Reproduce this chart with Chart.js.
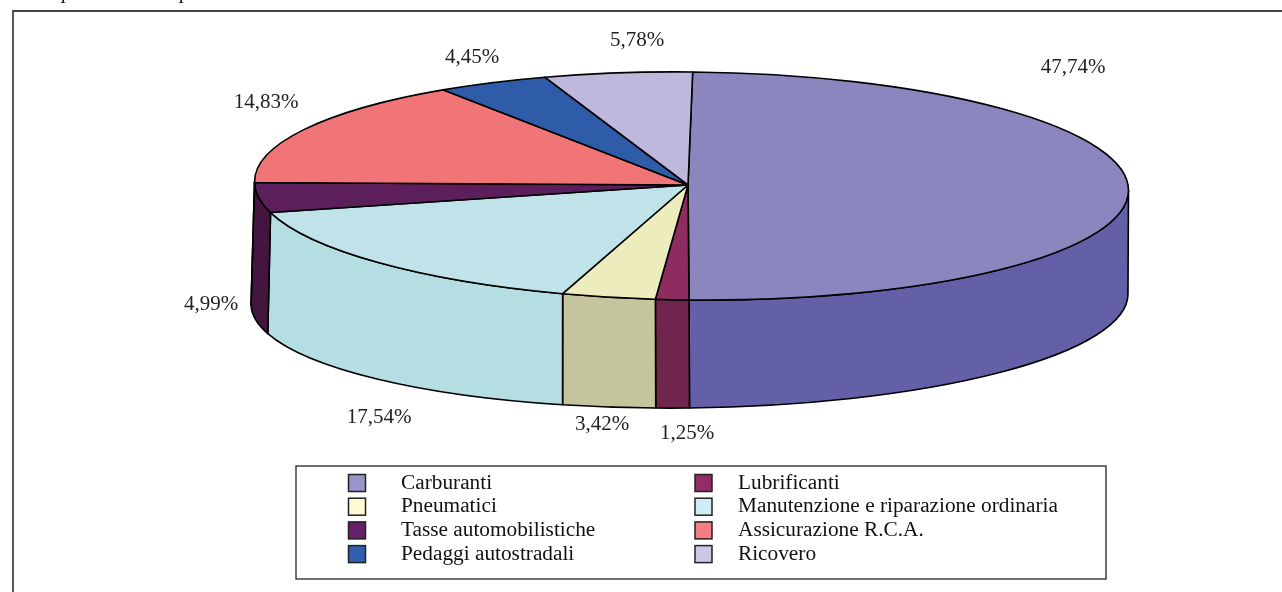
<!DOCTYPE html>
<html><head><meta charset="utf-8">
<script src="https://cdn.jsdelivr.net/npm/chart.js@4"></script>
<style>html,body{margin:0;padding:0;background:#fff}canvas{display:block}</style>
</head><body><canvas id="c" width="1282" height="592"></canvas>
<script>
const categories = ["Carburanti","Lubrificanti","Pneumatici","Manutenzione e riparazione ordinaria","Tasse automobilistiche","Assicurazione R.C.A.","Pedaggi autostradali","Ricovero"];
const shares = [47.74,1.25,3.42,17.54,4.99,14.83,4.45,5.78];
const topColors = ["#8B86BE","#8E2C62","#EDECBC","#C0E3EA","#5C1F5B","#F17577","#2E5CA8","#BDB8DC"];
const sideColors = ["#6460A8","#70264C","#C5C59D","#B5DEE3","#44163F","#D0615F","#24498A","#9C98B8"];
const legendColors = ["#9795C9","#942C66","#FFFBD0","#CFECF4","#66206A","#F57D84","#2F5FAE","#CBC8E6"];
const labelPlace = [[1073,66],[687,432],[602,423],[379,416],[211,303],[266,101],[472,56],[637,39]];
const croppedLine = [[62,"p"],[180,"p"]];
const FONT = '"Liberation Serif"';

// view of the disc
const top3d = {dx:3.5, dy:1, rx:437, ry:114, rot:0.0103};
const bottom3d = {cx:689.5, cy:299, rx:438.5, ry:109, rot:-0.012};
const DEG = Math.PI/180;
// angle measured clockwise from 12 o'clock -> the view's foreshortening
function warp(a){
  return a + (4.1*(1-Math.cos(a)) - 2.2*(1-Math.cos(2*a)) + 1.5*(1-Math.cos(4*a)))*DEG;
}
const pie3d = {
  id:'pie3d',
  beforeDatasetsDraw(chart){
    const ctx=chart.ctx, arcs=chart.getDatasetMeta(0).data;
    const ax=arcs[0].x, ay=arcs[0].y;
    const T={...top3d,cx:ax+top3d.dx,cy:ay+top3d.dy,ry:arcs[0].outerRadius};
    const rng=a=>[warp(a.startAngle+Math.PI/2),warp(a.endAngle+Math.PI/2)];
    ctx.save(); ctx.strokeStyle='#000'; ctx.lineWidth=1.6; ctx.lineJoin='round';
    // walls
    arcs.forEach((a,i)=>{
      let [s,e]=rng(a); s=Math.max(s,90*DEG); e=Math.min(e,270*DEG);
      if(e<=s) return;
      ctx.beginPath();
      ctx.ellipse(T.cx,T.cy,T.rx,T.ry,T.rot,s-Math.PI/2,e-Math.PI/2);
      ctx.ellipse(bottom3d.cx,bottom3d.cy,bottom3d.rx,bottom3d.ry,bottom3d.rot,e-Math.PI/2,s-Math.PI/2,true);
      ctx.closePath(); ctx.fillStyle=sideColors[i]; ctx.fill(); ctx.stroke();
    });
    // top surface
    arcs.forEach((a,i)=>{
      const [s,e]=rng(a);
      ctx.beginPath(); ctx.moveTo(ax,ay);
      ctx.ellipse(T.cx,T.cy,T.rx,T.ry,T.rot,s-Math.PI/2,e-Math.PI/2);
      ctx.closePath(); ctx.fillStyle=a.options.backgroundColor; ctx.fill(); ctx.stroke();
    });
    ctx.restore();
    return false;
  },
  afterDraw(chart){
    const ctx=chart.ctx;
    ctx.save();
    // line of text above the frame, cut off by the page edge
    ctx.fillStyle='#111'; ctx.font='italic 21px '+FONT; ctx.textAlign='left'; ctx.textBaseline='alphabetic';
    croppedLine.forEach(([x,s])=>ctx.fillText(s,x,-2));
    // frame
    ctx.strokeStyle='#444'; ctx.lineWidth=1.8;
    ctx.beginPath(); ctx.moveTo(13,592); ctx.lineTo(13,11); ctx.lineTo(1282,11); ctx.stroke();
    // value labels
    ctx.fillStyle='#222'; ctx.font='21px '+FONT; ctx.textAlign='center'; ctx.textBaseline='middle';
    shares.forEach((v,i)=>ctx.fillText(v.toFixed(2).replace('.',',')+'%',labelPlace[i][0],labelPlace[i][1]+1.5));
    // legend
    ctx.strokeStyle='#222'; ctx.lineWidth=1.3; ctx.strokeRect(296,466,810,113);
    ctx.textAlign='left'; ctx.font='21.3px '+FONT;
    chart.data.labels.forEach((l,i)=>{
      const col=i%2,row=(i-col)/2, y=483+row*23.7;
      const sx=col?695:348.5, tx=col?738:401;
      ctx.fillStyle=legendColors[i]; ctx.fillRect(sx,y-8.5,17,17);
      ctx.strokeStyle='#222'; ctx.lineWidth=1.5; ctx.strokeRect(sx,y-8.5,17,17);
      ctx.fillStyle='#111'; ctx.fillText(l,tx,y);
    });
    ctx.restore();
  }
};
new Chart(document.getElementById('c'),{
  type:'pie',
  data:{labels:categories,datasets:[{data:shares,backgroundColor:topColors,borderWidth:0}]},
  options:{responsive:false,animation:false,
    layout:{padding:{left:574,right:480,top:71,bottom:293}},
    plugins:{legend:{display:false},tooltip:{enabled:false}}},
  plugins:[pie3d]
});
</script></body></html>
